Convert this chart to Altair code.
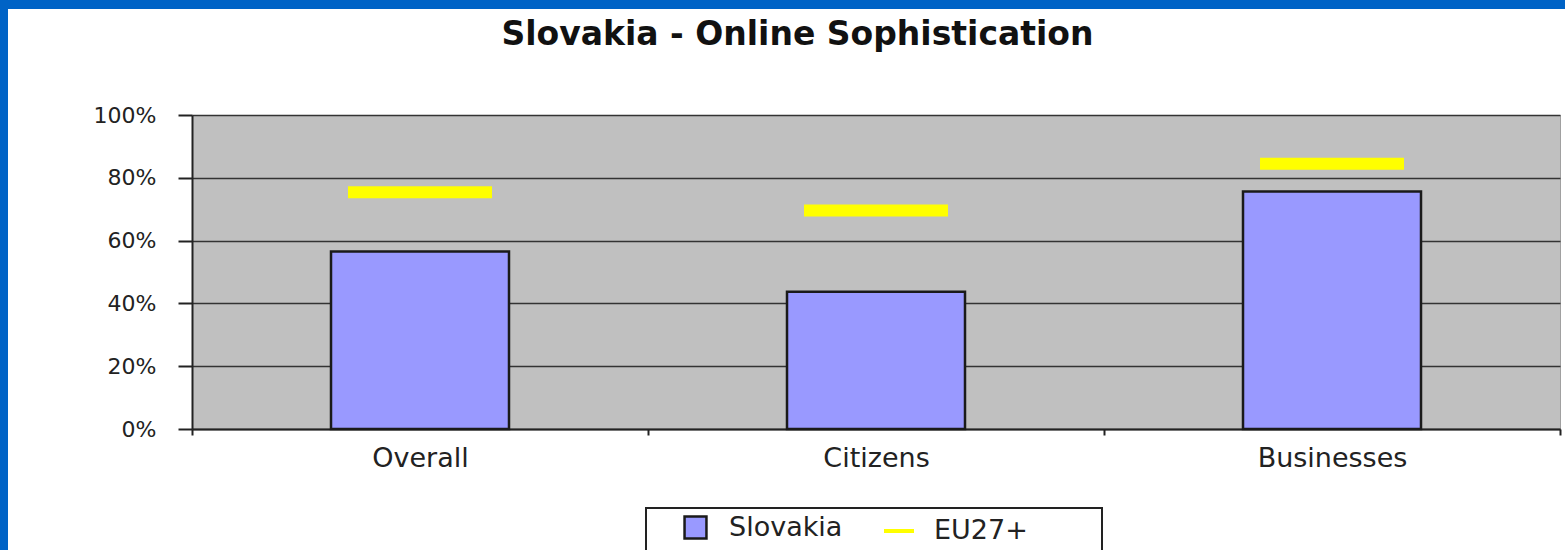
import altair as alt
import pandas as pd

# ---- data ----
categories = ["Overall", "Citizens", "Businesses"]
slovakia = [0.565, 0.437, 0.756]
eu27 = [0.754, 0.696, 0.845]
y_ticks = [0, 0.2, 0.4, 0.6, 0.8, 1.0]

df = pd.DataFrame({
    "category": categories,
    "Slovakia": slovakia,
    "EU27": eu27,
    "s_label": ["Slovakia"] * 3,
    "e_label": ["EU27+"] * 3,
})
one = pd.DataFrame({"d": [0]})

W, H = 1368, 314
PAD_L, PAD_T = 192, 115
FONT = "DejaVu Sans"

x_enc = alt.X(
    "category:N",
    sort=categories,
    scale=alt.Scale(paddingInner=0, paddingOuter=0),
    axis=alt.Axis(
        title=None, labelAngle=0, labelFontSize=27, labelFont=FONT,
        labelColor="#222222", labelPadding=10, tickBand="extent",
        tickSize=6, tickColor="#222222", tickWidth=2,
        domainColor="#222222", domainWidth=2, grid=False,
    ),
)
y_scale = alt.Scale(domain=[0, 1], nice=False)

bars = alt.Chart(df).mark_bar(size=178, stroke="#1a1a1a", strokeWidth=2.5).encode(
    x=x_enc,
    y=alt.Y(
        "Slovakia:Q",
        scale=y_scale,
        axis=alt.Axis(
            title=None, values=y_ticks, format=".0%", labelFontSize=22,
            labelFont=FONT, labelColor="#222222", labelPadding=22,
            tickSize=14, tickColor="#222222", tickWidth=2,
            domainColor="#222222", domainWidth=2,
            grid=True, gridColor="#333333", gridWidth=1.6,
        ),
    ),
    fill=alt.Fill(
        "s_label:N",
        scale=alt.Scale(domain=["Slovakia"], range=["#9999FF"]),
        legend=alt.Legend(
            title=None, orient="none", legendX=490, legendY=399, padding=0,
            symbolType="square", symbolSize=480, symbolStrokeColor="#1a1a1a",
            symbolStrokeWidth=2.5, labelFontSize=27, labelFont=FONT,
            labelColor="#222222", labelOffset=20,
        ),
    ),
)

ticks = alt.Chart(df).mark_tick(size=144, thickness=12, opacity=1).encode(
    x=alt.X("category:N", sort=categories),
    y=alt.Y("EU27:Q", scale=y_scale),
    color=alt.Color(
        "e_label:N",
        scale=alt.Scale(domain=["EU27+"], range=["#FFFF00"]),
        legend=alt.Legend(
            title=None, orient="none", legendX=690, legendY=399, padding=0,
            symbolType="stroke", symbolSize=900, symbolStrokeColor="#FFFF00",
            symbolStrokeWidth=4, labelFontSize=27, labelFont=FONT,
            labelColor="#222222", labelOffset=18,
        ),
    ),
)

legend_box = alt.Chart(one).mark_rect(fill="white", stroke="#222222", strokeWidth=2).encode(
    x=alt.value(454), x2=alt.value(910), y=alt.value(393), y2=alt.value(460)
)
border_top = alt.Chart(one).mark_rect(fill="#0063C6").encode(
    x=alt.value(-PAD_L), x2=alt.value(1565 - PAD_L), y=alt.value(-PAD_T), y2=alt.value(-PAD_T + 9)
)
border_left = alt.Chart(one).mark_rect(fill="#0063C6").encode(
    x=alt.value(-PAD_L), x2=alt.value(-PAD_L + 8), y=alt.value(-PAD_T), y2=alt.value(550 - PAD_T)
)

chart = alt.layer(legend_box, bars, ticks, border_top, border_left).properties(
    width=W, height=H,
    title=alt.TitleParams(
        "Slovakia - Online Sophistication", fontSize=33, font=FONT,
        fontWeight="bold", color="#111111", anchor="middle", frame="bounds",
        offset=-52, dx=15,
    ),
    autosize=alt.AutoSizeParams(type="none"),
    padding={"left": PAD_L, "top": PAD_T, "right": 1565 - PAD_L - W, "bottom": 550 - PAD_T - H},
    background="white",
).configure_view(fill="#C0C0C0", stroke="#A0A0A0", strokeWidth=1)

chart.save("out.html", embed_options={"renderer": "svg", "actions": False})
